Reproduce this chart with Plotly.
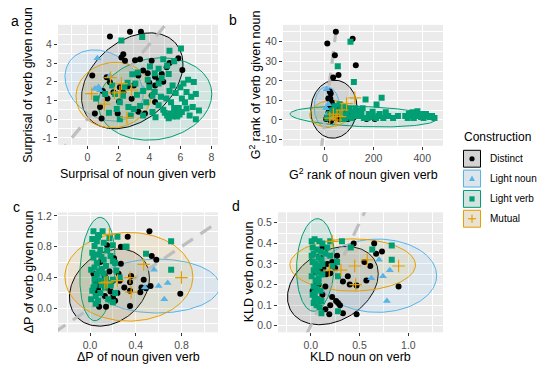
import numpy as np
import plotly.graph_objects as go

W, H = 542, 371

groups = ["Distinct", "Light noun", "Light verb", "Mutual"]
colors = ["#000000", "#56B4E9", "#009E73", "#E69F00"]
rgb = [(0, 0, 0), (86, 180, 233), (0, 158, 115), (230, 159, 0)]

# ---------------- Panel a: surprisal ----------------
a_dist_x = [1.46, 2.75, 3.46, 2.32, 2.43, 3.08, 3.40, 4.15, 5.87, 6.13, 5.12, 4.80, 4.37, 4.62, 4.37, 3.29, 0.32, 1.25, 1.46, 2.10,
            2.32, 1.68, 0.82, 0.92, 2.86, 4.15, 4.37, 0.49, 3.72, 1.96, 3.9, 4.9, 2.6, 3.0, 3.6, 2.05, 1.0, 5.3, 3.3, 2.2, 1.3, 4.0]
a_dist_y = [4.41, 4.67, 4.67, 3.47, 3.12, 3.15, 3.20, 3.12, 3.26, 2.63, 2.77, 2.41, 2.27, 2.06, 1.80, 2.33, 2.33, 2.24, 1.97, 1.71,
            1.44, 1.44, 0.65, 0.04, 1.09, 1.27, 0.92, 0.30, 0.30, 0.30, 2.45, 2.0, 1.75, 1.8, 2.6, 0.95, 1.5, 3.0, 0.4, 3.3, 1.1, 1.95]
a_ln_x = [0.65, 0.50, 0.72, 0.82, 3.60, 1.45]
a_ln_y = [3.25, 1.62, 1.72, 1.55, 1.62, 2.30]
a_lv_x = [3.54, 5.3, 6.04, 4.9, 3.26, 4.04, 4.35, 4.6, 5.15, 5.25, 5.6, 6.87, 5.5, 6.0, 6.4, 6.7, 7.0, 6.1, 5.4, 5.72,
          5.4, 5.15, 5.5, 5.8, 6.1, 6.4, 6.8, 7.2, 7.0, 4.0, 3.6, 4.2, 3.8, 4.6, 4.2, 3.6, 2.6, 2.4, 1.8, 2.1,
          2.65, 3.0, 1.9, 2.1, 0.57, 1.15, 1.6, 2.9, 4.35, 4.75, 5.1, 4.6, 3.2, 3.4, 4.9, 6.3, 5.9, 5.0, 4.4, 5.6,
          6.6, 3.1, 2.3, 1.4, 3.9, 4.8, 6.5, 5.7, 2.8, 5.3, 6.2, 5.25, 5.95, 2.2]
a_lv_y = [4.39, 3.65, 3.77, 3.2, 2.5, 2.82, 2.45, 2.7, 2.85, 2.42, 3.1, 1.98, 1.8, 1.7, 1.45, 1.2, 1.35, 1.1, 0.9, 0.39,
          0.3, 0.2, 0.15, 0.15, 0.39, 0.57, 0.65, 0.47, 0.0, 1.7, 1.5, 1.25, 0.9, 0.75, 0.39, 0.2, 1.95, 1.7, 1.35, 0.9,
          0.65, 0.55, 0.55, 0.0, 1.1, 1.35, 1.8, 2.4, 1.45, 1.2, 1.1, 1.9, 1.3, 0.7, 0.5, 0.9, 0.6, 0.35, 0.1, 0.6,
          0.2, 1.9, 1.25, 0.35, 2.1, 2.2, 2.1, 1.4, 0.2, 1.5, 1.9, 0.05, 0.25, 4.2]
a_mut_x = [0.28, 1.50, 1.75, 2.10, 2.86, 1.10, 2.55, 2.20]
a_mut_y = [1.36, 2.22, 1.40, 1.45, 1.55, 0.80, 0.08, 1.90]

# ---------------- Panel b: G2 rank ----------------
b_dist_x = [45, 10, 114, 41, 127, 56, 34, 20, 24, 14, 22, 28, 38, 30, 15, 42, 55, 70, 88, 100, 120, 171, 205, 60, 30, 10, 5, 45,
            80, 25, 50, 18, 35, 65, 95, 12]
b_dist_y = [45, 39, 41.5, 33, 28, 23, 21.7, 14.6, 13.5, 11, 11, 9, 7, 5, 4, 4, 3, 2, 4, 2, 1.5, 0.5, 0.5, 0.5, 1, 2, 0.5, 1,
            1, -0.5, 6, 7, 2.5, 1.5, 0.5, 1]
b_ln_x = [7, 10, 22, 5, 30, 15]
b_ln_y = [15.7, 3, 2, 6, 1, 8]
b_lv_x = [105, 53, 119, 233, 167, 212, 196, 140, 150, 120, 100, 80, 60, 40, 30, 50, 70, 90, 110, 130, 160, 180, 220, 240, 260,
          330, 345, 360, 375, 385, 395, 405, 415, 425, 440, 450, 380, 365, 340, 300, 280, 20, 10, 65, 85, 115, 145, 175, 195,
          210, 225, 250, 355, 400, 430, 95, 75, 125, 155, 185]
b_lv_y = [40, 27.4, 19.4, 11.4, 10.4, 7.9, 4.2, 5, 3, 4, 6, 7, 8, 7, 5, 4, 3, 2, 1, 2, 1, 3, 2, 1, 2,
          2, 3, 4, 3, 2, 1.5, 1, 3, 2, 2, 1, 4.5, 1, 1, 2, 1, 3, 1, 5, 1, 3, 2, 1, 2,
          1, 3, 4, 2, 3, 1.5, 5, 0.5, 6, 6, 1.5]
b_mut_x = [123, 62, 89, 35, 50, 20, 70, 45]
b_mut_y = [11.3, 1.7, 8.4, 3, 2, 1, 5, 0]

# ---------------- Panel c: Delta P ----------------
c_dist_x = [0.52, 0.33, 0.15, 0.27, 0.54, 0.58, 0.21, 0.09, 0.17, 0.13, 0.05, 0.09, 0.15, 0.20, 0.13, 0.08, 0.14, 0.22, 0.20, 0.35,
            0.36, 0.35, 0.47, 0.45, 0.44, 0.35, 0.49, 0.53, 0.79, 0.26, 0.30, 0.25, 0.10, 0.05, 0.18, 0.24, 0.03, 0.07, 0.12, 0.27]
c_dist_y = [1.00, 0.93, 0.82, 0.80, 0.68, 0.63, 0.65, 0.60, 0.48, 0.42, 0.36, 0.31, 0.27, 0.36, 0.16, 0.02, 0.02, 0.10, 0.14, 0.34,
            0.42, 0.23, 0.37, 0.27, 0.21, 0.03, 0.26, 0.29, 0.19, 0.36, 0.27, 0.45, 0.50, 0.20, 0.22, 0.20, 0.45, 0.25, 0.35, 0.58]
c_ln_x = [0.56, 0.60, 0.68, 0.65, 0.48, 0.08]
c_ln_y = [0.50, 0.29, 0.33, 0.12, 0.27, 0.40]
c_lv_x = [0.03, 0.11, 0.07, 0.17, 0.06, 0.12, 0.04, 0.09, 0.07, 0.03, 0.12, 0.06, 0.04, 0.10, 0.06, 0.04, 0.09, 0.04, 0.02, 0.09,
          0.05, 0.01, 0.03, 0.08, 0.02, 0.10, 0.05, 0.12, 0.14, 0.02, 0.08, 0.01, 0.07, 0.10, 0.13, 0.15,
          0.24, 0.32, 0.20, 0.22, 0.20, 0.23, 0.16, 0.20, 0.18, 0.22, 0.16, 0.20, 0.49, 0.71, 0.71, 0.31, 0.18, 0.26, 0.14]
c_lv_y = [1.00, 1.00, 0.93, 0.91, 0.87, 0.85, 0.81, 0.76, 0.70, 0.66, 0.63, 0.59, 0.53, 0.51, 0.44, 0.38, 0.36, 0.30, 0.23, 0.20,
          0.16, 0.12, 0.27, 0.48, 0.72, 0.67, 0.06, 0.45, 0.55, 0.90, 0.95, 0.50, 0.10, 0.30, 0.27, 0.75,
          0.93, 0.80, 0.82, 0.59, 0.61, 0.49, 0.33, 0.37, 0.30, 0.20, 0.12, 0.08, 0.71, 0.87, 0.50, 0.80, 0.68, 0.40, 0.38]
c_mut_x = [0.17, 0.47, 0.80, 0.35, 0.24, 0.15, 0.36, 0.13]
c_mut_y = [0.96, 0.57, 0.40, 0.40, 0.36, 0.34, 0.21, 0.33]

# ---------------- Panel d: KLD ----------------
d_dist_x = [0.44, 0.65, 0.73, 0.27, 0.20, 0.33, 0.61, 0.57, 0.47, 0.90, 0.28, 0.19, 0.47, 0.12, 0.17, 0.25, 0.16, 0.10, 0.05, 0.08,
            0.12, 0.10, 0.22, 0.26, 0.20, 0.30, 0.15, 0.55, 0.67, 0.40, 0.02, 0.06, 0.33, 0.15, 0.22, 0.10, 0.38, 0.13]
d_dist_y = [0.40, 0.40, 0.36, 0.34, 0.255, 0.215, 0.29, 0.22, 0.195, 0.19, 0.11, 0.056, 0.056, 0.38, 0.30, 0.28, 0.25, 0.27, 0.26, 0.20,
            0.15, 0.12, 0.14, 0.12, 0.10, 0.10, 0.19, 0.31, 0.35, 0.20, 0.17, 0.21, 0.06, 0.08, 0.31, 0.33, 0.24, 0.28]
d_ln_x = [0.70, 0.81, 0.74, 0.62, 0.78, 0.10]
d_ln_y = [0.32, 0.27, 0.24, 0.23, 0.12, 0.24]
d_lv_x = [0.01, 0.04, 0.09, 0.12, 0.02, 0.06, 0.10, 0.03, 0.08, 0.11, 0.02, 0.05, 0.09, 0.03, 0.07, 0.12, 0.01, 0.05, 0.08, 0.03,
          0.06, 0.10, 0.02, 0.04, 0.07, 0.11, 0.03, 0.06, 0.09, 0.01, 0.05, 0.08, 0.12, 0.04,
          0.20, 0.32, 0.41, 0.27, 0.28, 0.11, 0.28, 0.63, 0.83, 0.83, 0.17, 0.20, 0.15, 0.22]
d_lv_y = [0.41, 0.42, 0.41, 0.40, 0.38, 0.37, 0.36, 0.35, 0.33, 0.32, 0.31, 0.30, 0.29, 0.27, 0.26, 0.25, 0.24, 0.22, 0.21, 0.19,
          0.18, 0.17, 0.15, 0.14, 0.13, 0.12, 0.11, 0.10, 0.09, 0.34, 0.28, 0.23, 0.30, 0.16,
          0.41, 0.41, 0.38, 0.31, 0.24, 0.06, 0.07, 0.37, 0.39, 0.32, 0.38, 0.34, 0.35, 0.29]
d_mut_x = [0.22, 0.58, 0.45, 0.90, 0.31, 0.19, 0.46]
d_mut_y = [0.41, 0.32, 0.29, 0.29, 0.27, 0.27, 0.20]

# ---------------- 95% ellipses: centre x, centre y, x half-extent, y half-extent, correlation ----------------
a_ellipses = [[2.90, 2.05, 3.27, 2.56, 0.35], [1.08, 1.80, 2.52, 1.90, -0.25],
              [4.37, 1.08, 3.66, 2.20, 0.12], [1.71, 1.29, 2.44, 1.75, 0.05]]
b_ellipses = [[37, 5.5, 95, 14.8, 0.05], [8, 6.5, 52, 10.5, 0.0],
              [157, 1.75, 300, 5.3, -0.25], [22, 3.2, 84, 6.8, 0.1]]
c_ellipses = [[0.17, 0.27, 0.35, 0.50, 0.25], [0.59, 0.29, 0.545, 0.35, 0.0],
              [0.066, 0.51, 0.155, 0.67, 0.15], [0.34, 0.41, 0.56, 0.575, 0.0]]
d_ellipses = [[0.227, 0.195, 0.465, 0.19, 0.3], [0.685, 0.243, 0.605, 0.178, 0.0],
              [0.05, 0.295, 0.195, 0.225, 0.1], [0.43, 0.295, 0.643, 0.127, 0.0]]

# ---------------- Axis ticks ----------------
a_xticks = [0, 2, 4, 6, 8];  a_xlabels = ["0", "2", "4", "6", "8"]
a_yticks = [-1, 0, 1, 2, 3, 4];  a_ylabels = ["-1", "0", "1", "2", "3", "4"]
b_xticks = [0, 200, 400];  b_xlabels = ["0", "200", "400"]
b_yticks = [-10, 0, 10, 20, 30, 40];  b_ylabels = ["-10", "0", "10", "20", "30", "40"]
c_xticks = [0, 0.4, 0.8];  c_xlabels = ["0.0", "0.4", "0.8"]
c_yticks = [0, 0.4, 0.8, 1.2];  c_ylabels = ["0.0", "0.4", "0.8", "1.2"]
d_xticks = [0, 0.5, 1.0];  d_xlabels = ["0.0", "0.5", "1.0"]
d_yticks = [0, 0.1, 0.2, 0.3, 0.4, 0.5];  d_ylabels = ["0.0", "0.1", "0.2", "0.3", "0.4", "0.5"]

panels = [
    dict(tag="a", pts=[(a_dist_x, a_dist_y), (a_ln_x, a_ln_y), (a_lv_x, a_lv_y), (a_mut_x, a_mut_y)], ell=a_ellipses,
         px=(58, 218), py=(22, 143), xr=[-1.89, 8.43], yr=[-1.37, 5.04],
         xt=(a_xticks, a_xlabels), yt=(a_yticks, a_ylabels), xm=(1, 1), ym=(0.5, 0.5), xty=172,
         xtitle="Surprisal of noun given verb", ytitle="Surprisal of verb given noun", ytx=28, label=(15, 18)),
    dict(tag="b", pts=[(b_dist_x, b_dist_y), (b_ln_x, b_ln_y), (b_lv_x, b_lv_y), (b_mut_x, b_mut_y)], ell=b_ellipses,
         px=(283, 443), py=(22, 144), xr=[-172, 485], yr=[-13.2, 48.6],
         xt=(b_xticks, b_xlabels), yt=(b_yticks, b_ylabels), xm=(100, 100), ym=(5, 5), xty=172,
         xtitle="G<sup>2</sup> rank of noun given verb", ytitle="G<sup>2</sup> rank of verb given noun", ytx=255, label=(233, 17)),
    dict(tag="c", pts=[(c_dist_x, c_dist_y), (c_ln_x, c_ln_y), (c_lv_x, c_lv_y), (c_mut_x, c_mut_y)], ell=c_ellipses,
         px=(58, 218), py=(211, 332), xr=[-0.28, 1.12], yr=[-0.31, 1.246],
         xt=(c_xticks, c_xlabels), yt=(c_yticks, c_ylabels), xm=(0.2, 0.2), ym=(0.2, 0.2), xty=357,
         xtitle="ΔP of noun given verb", ytitle="ΔP of verb given noun", ytx=29, label=(16, 206)),
    dict(tag="d", pts=[(d_dist_x, d_dist_y), (d_ln_x, d_ln_y), (d_lv_x, d_lv_y), (d_mut_x, d_mut_y)], ell=d_ellipses,
         px=(278, 443), py=(211, 332), xr=[-0.335, 1.355], yr=[-0.032, 0.551],
         xt=(d_xticks, d_xlabels), yt=(d_yticks, d_ylabels), xm=(0.25, 0.25), ym=(0.05, 0.05), xty=357,
         xtitle="KLD noun on verb", ytitle="KLD verb on noun", ytx=249, label=(236, 205)),
]

symbols = ["circle", "triangle-up", "square", "cross-thin"]
sizes = [6, 7, 6, 9]

def ellipse(p, n=160):
    cx, cy, ax, ay, r = p
    t = np.linspace(0, 2 * np.pi, n)
    x = cx + ax * np.cos(t)
    y = cy + ay * (r * np.cos(t) + np.sqrt(1 - r * r) * np.sin(t))
    return x, y

def fx(px):
    return px / W

def fy(py):
    return 1 - py / H

fig = go.Figure()
layout = dict(width=W, height=H, margin=dict(l=0, r=0, t=0, b=0), paper_bgcolor="white",
              plot_bgcolor="#EBEBEB", showlegend=False,
              font=dict(family="Liberation Sans, Arial, sans-serif", color="black"))
annotations = []
shapes = []

for i, p in enumerate(panels):
    k = "" if i == 0 else str(i + 1)
    xa, ya = "x" + k, "y" + k
    tickfont = dict(size=10.5, color="#4D4D4D")
    common = dict(showgrid=True, gridcolor="white", gridwidth=1.1, zeroline=False, ticks="outside",
                  ticklen=3, tickwidth=1, tickcolor="#333333", tickfont=tickfont, showline=False,
                  fixedrange=True, tickmode="array")
    layout["xaxis" + k] = dict(common, domain=[fx(p["px"][0]), fx(p["px"][1])], range=p["xr"],
                               tickvals=p["xt"][0], ticktext=p["xt"][1], anchor=ya,
                               minor=dict(tickmode="linear", tick0=p["xm"][1], dtick=p["xm"][0] * 2,
                                          showgrid=True, gridcolor="white", gridwidth=0.5))
    layout["yaxis" + k] = dict(common, domain=[fy(p["py"][1]), fy(p["py"][0])], range=p["yr"],
                               tickvals=p["yt"][0], ticktext=p["yt"][1], anchor=xa,
                               minor=dict(tickmode="linear", tick0=p["ym"][1], dtick=p["ym"][0] * 2,
                                          showgrid=True, gridcolor="white", gridwidth=0.5))
    # ellipses
    for g in range(4):
        ex, ey = ellipse(p["ell"][g])
        r_, g_, b_ = rgb[g]
        fig.add_trace(go.Scatter(x=ex, y=ey, mode="lines", fill="toself",
                                 fillcolor=f"rgba({r_},{g_},{b_},0.1)",
                                 line=dict(color=colors[g], width=1), xaxis=xa, yaxis=ya, hoverinfo="skip"))
    # identity line
    lo = min(p["xr"][0], p["yr"][0]); hi = max(p["xr"][1], p["yr"][1])
    fig.add_trace(go.Scatter(x=[lo, hi], y=[lo, hi], mode="lines",
                             line=dict(color="rgba(185,185,185,0.9)", width=3.2, dash="13px,9px"),
                             xaxis=xa, yaxis=ya, hoverinfo="skip"))
    # points
    for g in range(4):
        xs, ys = p["pts"][g]
        mk = dict(symbol=symbols[g], size=sizes[g], color=colors[g])
        if g == 3:
            mk["line"] = dict(color=colors[g], width=1.2)
        else:
            mk["line"] = dict(width=0)
        fig.add_trace(go.Scatter(x=xs, y=ys, mode="markers", marker=mk, xaxis=xa, yaxis=ya))
    # titles
    cxp = (p["px"][0] + p["px"][1]) / 2
    cyp = (p["py"][0] + p["py"][1]) / 2
    annotations.append(dict(text=p["xtitle"], x=fx(cxp), y=fy(p["xty"]), xref="paper", yref="paper",
                            showarrow=False, font=dict(size=12.5, color="black"), xanchor="center", yanchor="middle"))
    annotations.append(dict(text=p["ytitle"], x=fx(p["ytx"]), y=fy(cyp), xref="paper", yref="paper",
                            showarrow=False, textangle=-90, font=dict(size=12.5, color="black"),
                            xanchor="center", yanchor="middle"))
    annotations.append(dict(text=p["tag"], x=fx(p["label"][0]), y=fy(p["label"][1]), xref="paper", yref="paper",
                            showarrow=False, font=dict(size=14, color="black"), xanchor="center", yanchor="middle"))

# legend (drawn by hand, ggplot style)
annotations.append(dict(text="Construction", x=fx(462), y=fy(135), xref="paper", yref="paper", showarrow=False,
                        font=dict(size=12, color="black"), xanchor="left", yanchor="middle"))
key_y = [157, 177, 197.5, 217.5]
kx0, kx1 = 463, 481
for g in range(4):
    yc = key_y[g]
    r_, g_, b_ = rgb[g]
    shapes.append(dict(type="rect", xref="paper", yref="paper", x0=fx(kx0), x1=fx(kx1), y0=fy(yc + 9), y1=fy(yc - 9),
                       fillcolor="#EBEBEB", line=dict(width=0), layer="above"))
    shapes.append(dict(type="rect", xref="paper", yref="paper", x0=fx(kx0 + 0.5), x1=fx(kx1 - 0.5),
                       y0=fy(yc + 8.5), y1=fy(yc - 8.5),
                       fillcolor=f"rgba({r_},{g_},{b_},0.1)", line=dict(color=colors[g], width=1), layer="above"))
    xc = (kx0 + kx1) / 2
    if g == 0:
        shapes.append(dict(type="circle", xref="paper", yref="paper", x0=fx(xc - 2.6), x1=fx(xc + 2.6),
                           y0=fy(yc + 2.6), y1=fy(yc - 2.6), fillcolor=colors[g], line=dict(width=0), layer="above"))
    elif g == 1:
        path = f"M {fx(xc-3)} {fy(yc+2.4)} L {fx(xc+3)} {fy(yc+2.4)} L {fx(xc)} {fy(yc-3)} Z"
        shapes.append(dict(type="path", xref="paper", yref="paper", path=path, fillcolor=colors[g],
                           line=dict(width=0), layer="above"))
    elif g == 2:
        shapes.append(dict(type="rect", xref="paper", yref="paper", x0=fx(xc - 2.6), x1=fx(xc + 2.6),
                           y0=fy(yc + 2.6), y1=fy(yc - 2.6), fillcolor=colors[g], line=dict(width=0), layer="above"))
    else:
        shapes.append(dict(type="line", xref="paper", yref="paper", x0=fx(xc - 4), x1=fx(xc + 4),
                           y0=fy(yc), y1=fy(yc), line=dict(color=colors[g], width=1.2), layer="above"))
        shapes.append(dict(type="line", xref="paper", yref="paper", x0=fx(xc), x1=fx(xc),
                           y0=fy(yc - 4), y1=fy(yc + 4), line=dict(color=colors[g], width=1.2), layer="above"))
    annotations.append(dict(text=groups[g], x=fx(488), y=fy(yc), xref="paper", yref="paper", showarrow=False,
                            font=dict(size=10, color="black"), xanchor="left", yanchor="middle"))

layout["annotations"] = annotations
layout["shapes"] = shapes
fig.update_layout(**layout)
fig.write_html("out.html", config={"displayModeBar": False},
               post_script="document.body.style.margin='0px';document.body.style.overflow='hidden';")
